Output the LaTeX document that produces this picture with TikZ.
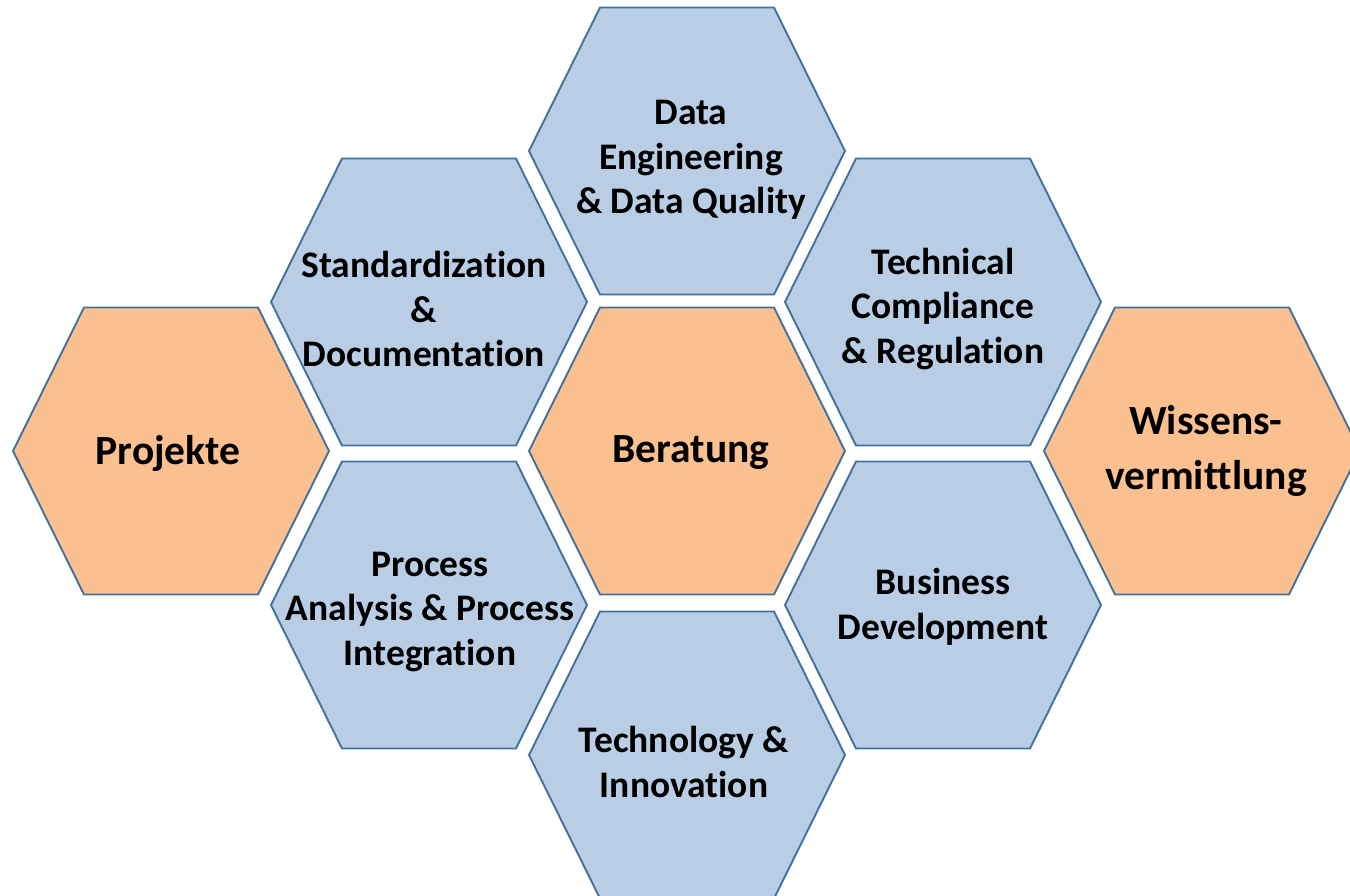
\documentclass[tikz,border=0pt]{standalone}
\usepackage{fontspec}
\setmainfont{Carlito}[Ligatures={NoCommon}]
\definecolor{hexblue}{RGB}{185,205,229}
\definecolor{hexorange}{RGB}{250,192,144}
\definecolor{hexline}{RGB}{65,113,156}
\tikzset{
  hexblue/.style={fill=hexblue, draw=hexline, line width=1.9pt, line join=miter},
  hexorange/.style={fill=hexorange, draw=hexline, line width=1.9pt, line join=miter},
  bluetext/.style={align=center, inner sep=0pt, font=\fontsize{37.5}{44.5}\selectfont\bfseries},
  orangetext/.style={align=center, inner sep=0pt, font=\fontsize{41.5}{55}\selectfont\bfseries}
}
\newcommand{\hexat}[2]{\draw[#2] (#1) ++(-158,0) -- ++(71,-143.5) -- ++(174,0) -- ++(71,143.5) -- ++(-71,143.5) -- ++(-174,0) -- cycle;}
\begin{document}
\begin{tikzpicture}[x=1pt,y=-1pt]
\useasboundingbox (0,0) rectangle (1350,896);
\clip (0,0) rectangle (1350,896);
\coordinate (cDE) at (687,151);
\coordinate (cSD) at (429,302);
\coordinate (cTC) at (943,302);
\coordinate (cPJ) at (171,451);
\coordinate (cBE) at (687,451);
\coordinate (cWV) at (1202,451);
\coordinate (cPA) at (429,605);
\coordinate (cBD) at (943,605);
\coordinate (cTI) at (687,755);
\hexat{cDE}{hexblue}
\hexat{cSD}{hexblue}
\hexat{cTC}{hexblue}
\hexat{cPJ}{hexorange}
\hexat{cBE}{hexorange}
\hexat{cWV}{hexorange}
\hexat{cPA}{hexblue}
\hexat{cBD}{hexblue}
\hexat{cTI}{hexblue}
\node[bluetext] (tDE) at (691,160) {Data\\Engineering\\\& Data Quality};
\node[bluetext] (tSD) at (424,309) {Standardization\\\&\\Documentation};
\node[bluetext] (tTC) at (943,309) {Technical\\Compliance\\\& Regulation};
\node[orangetext] (tPJ) at (168,453) {Projekte};
\node[orangetext] (tBE) at (691,453) {Beratung};
\node[orangetext] (tWV) at (1206,451) {Wissens-\\vermittlung};
\node[bluetext] (tPA) at (430,612) {Process\\Analysis \& Process\\Integration};
\node[bluetext] (tBD) at (943,607) {Business\\Development};
\node[bluetext] (tTI) at (684,762) {Technology \&\\Innovation};
\end{tikzpicture}
\end{document}
